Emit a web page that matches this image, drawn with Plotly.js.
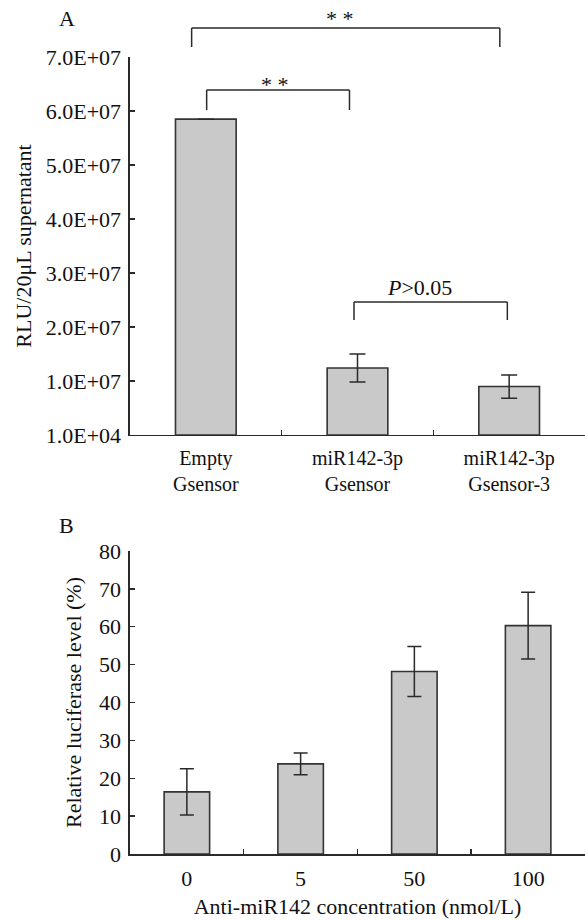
<!DOCTYPE html>
<html>
<head>
<meta charset="utf-8">
<script src="https://cdn.plot.ly/plotly-3.0.1.min.js"></script>
<style>html,body{margin:0;padding:0;background:#fff;}#chart{width:585px;height:920px;}</style>
</head>
<body>
<div id="chart"></div>
<script>
// ---- Panel A data ----
const categoriesA = ['Empty<br>Gsensor', 'miR142-3p<br>Gsensor', 'miR142-3p<br>Gsensor-3'];
const valuesA = [5.85e7, 1.24e7, 0.90e7];
const errPlusA = [null, 0.26e7, 0.21e7];
const errMinusA = [null, 0.26e7, 0.22e7];
const tickValsA = [1e4, 1e7, 2e7, 3e7, 4e7, 5e7, 6e7, 7e7];
const tickTextA = ['1.0E+04', '1.0E+07', '2.0E+07', '3.0E+07', '4.0E+07', '5.0E+07', '6.0E+07', '7.0E+07'];

// ---- Panel B data ----
const categoriesB = ['0', '5', '50', '100'];
const valuesB = [16.4, 23.8, 48.2, 60.3];
const errB = [6.1, 2.9, 6.6, 8.8];

const FONT = 'Liberation Serif, Times New Roman, serif';
const INK = '#111';
const LINE = '#2a2a2a';
const BAR = '#c9c9c9';

const traces = [
  {
    type: 'bar', x: categoriesA, y: valuesA, xaxis: 'x', yaxis: 'y',
    marker: {color: BAR, line: {color: '#333', width: 1.6}},
    error_y: {type: 'data', symmetric: false, array: errPlusA, arrayminus: errMinusA,
              color: LINE, thickness: 1.5, width: 8},
    hoverinfo: 'skip'
  },
  {
    type: 'bar', x: categoriesB, y: valuesB, xaxis: 'x2', yaxis: 'y2',
    marker: {color: BAR, line: {color: '#333', width: 1.6}},
    error_y: {type: 'data', array: errB, color: LINE, thickness: 1.5, width: 7},
    hoverinfo: 'skip'
  }
];

// significance brackets (x, y as fractions of panel A axis domains)
const brackets = [
  {x0: 0.1355, x1: 0.8128, y: 1.0767, yEnd: 1.0265},
  {x0: 0.1685, x1: 0.4824, y: 0.9127, yEnd: 0.8598},
  {x0: 0.4923, x1: 0.8293, y: 0.3519, yEnd: 0.3042}
];
const shapes = [];
brackets.forEach(b => {
  const base = {type: 'line', xref: 'x domain', yref: 'y domain', line: {color: LINE, width: 1.5}};
  shapes.push(Object.assign({}, base, {x0: b.x0, x1: b.x1, y0: b.y, y1: b.y}));
  shapes.push(Object.assign({}, base, {x0: b.x0, x1: b.x0, y0: b.y, y1: b.yEnd}));
  shapes.push(Object.assign({}, base, {x0: b.x1, x1: b.x1, y0: b.y, y1: b.yEnd}));
});

const axisCommon = {
  showline: true, linecolor: LINE, linewidth: 1.5, mirror: false,
  ticks: 'inside', ticklen: 5, tickwidth: 1.5, tickcolor: LINE,
  showgrid: false, zeroline: false, automargin: false, fixedrange: true,
  tickfont: {family: FONT, size: 22, color: INK}
};
const titleFont = {family: FONT, size: 22, color: INK};

function note(text, xref, yref, x, y, size) {
  return {text: text, xref: xref, yref: yref, x: x, y: y, showarrow: false,
          xanchor: 'center', yanchor: 'middle',
          font: {family: FONT, size: size, color: INK}};
}

const layout = {
  width: 585, height: 920,
  margin: {l: 0, r: 0, t: 0, b: 0},
  paper_bgcolor: '#fff', plot_bgcolor: '#fff',
  showlegend: false, bargap: 0.6,
  font: {family: FONT, color: INK},
  xaxis: Object.assign({}, axisCommon, {
    domain: [0.2222, 1], anchor: 'y', type: 'category', tickson: 'boundaries',
    range: [-0.5, 2.5], ticklabelstandoff: 5,
    tickfont: {family: FONT, size: 20, color: INK}
  }),
  yaxis: Object.assign({}, axisCommon, {
    domain: [0.5272, 0.938], anchor: 'x', range: [1e4, 7e7],
    tickmode: 'array', tickvals: tickValsA, ticktext: tickTextA, ticklabelstandoff: 3,
    title: {text: 'RLU/20μL supernatant', font: titleFont, standoff: 8}
  }),
  xaxis2: Object.assign({}, axisCommon, {
    domain: [0.2222, 1], anchor: 'y2', type: 'category', tickson: 'boundaries',
    range: [-0.5, 3.5], ticklabelstandoff: 4,
    title: {text: 'Anti-miR142 concentration (nmol/L)', font: titleFont, standoff: 8}
  }),
  yaxis2: Object.assign({}, axisCommon, {
    domain: [0.0717, 0.4011], anchor: 'x2', range: [0, 80], dtick: 10, tick0: 0,
    ticklabelstandoff: 3,
    title: {text: 'Relative luciferase level (%)', font: titleFont, standoff: 11}
  }),
  shapes: shapes,
  annotations: [
    note('A', 'paper', 'paper', 0.1145, 0.9804, 22),
    note('B', 'paper', 'paper', 0.1145, 0.4283, 22),
    note('* *', 'x domain', 'y domain', 0.4626, 1.1019, 22),
    note('* *', 'x domain', 'y domain', 0.3194, 0.9272, 22),
    note('<i>P</i>&gt;0.05', 'x domain', 'y domain', 0.6366, 0.3915, 22)
  ]
};

Plotly.newPlot('chart', traces, layout, {staticPlot: true, displayModeBar: false});
</script>
</body>
</html>
